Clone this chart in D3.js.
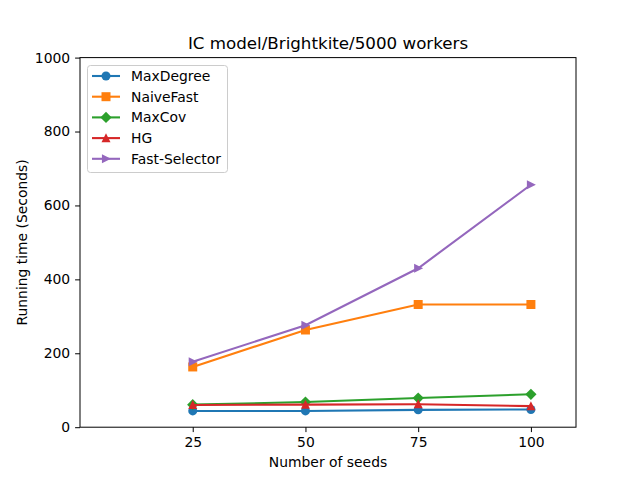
<!DOCTYPE html>
<html><head><meta charset="utf-8">
<script src="https://cdn.jsdelivr.net/npm/d3@7"></script>
<style>body{margin:0;background:#fff}svg{display:block}text{font-family:"DejaVu Sans",sans-serif}</style>
</head><body><div id="chart"></div>
<script>
const seeds = [25, 50, 75, 100];
const maxDegree = [44, 44, 47, 48];
const naiveFast = [163, 263, 332, 332];
const maxCov = [61, 68, 79, 89];
const hg = [60, 61, 62, 57];
const fastSelector = [177, 276, 430, 656];
const yTicks = [0, 200, 400, 600, 800, 1000];
const seriesNames = ["MaxDegree", "NaiveFast", "MaxCov", "HG", "Fast-Selector"];
const seriesColors = ["#1f77b4", "#ff7f0e", "#2ca02c", "#d62728", "#9467bd"];
const seriesMarkers = ["circle", "square", "diamond", "triangle", "triright"];
const seriesValues = [maxDegree, naiveFast, maxCov, hg, fastSelector];

const W = 640, H = 480;
const m = {left: 80, right: 576, top: 57.6, bottom: 427.2};
const svg = d3.select("#chart").append("svg").attr("width", W).attr("height", H);
const x = d3.scaleLinear().domain([0, 110]).range([m.left, m.right]);
const y = d3.scaleLinear().domain([0, 1000]).range([m.bottom, m.top]);

const fs = 13.9;
svg.append("g").attr("transform", `translate(0,${m.bottom})`)
  .call(d3.axisBottom(x).tickValues(seeds).tickFormat(d3.format("d")).tickSize(4.9).tickPadding(4.9))
  .call(g => g.select(".domain").remove())
  .call(g => g.selectAll("text").attr("font-size", fs).attr("font-family", "DejaVu Sans").attr("fill", "#000"));
svg.append("g").attr("transform", `translate(${m.left},0)`)
  .call(d3.axisLeft(y).tickValues(yTicks).tickFormat(d3.format("d")).tickSize(4.9).tickPadding(4.9))
  .call(g => g.select(".domain").remove())
  .call(g => g.selectAll("text").attr("font-size", fs).attr("font-family", "DejaVu Sans").attr("fill", "#000"));

svg.append("rect").attr("x", m.left).attr("y", m.top).attr("width", m.right - m.left)
  .attr("height", m.bottom - m.top).attr("fill", "none").attr("stroke", "#000").attr("stroke-width", 1);

svg.append("text").attr("x", (m.left + m.right) / 2).attr("y", 49).attr("text-anchor", "middle")
  .attr("font-size", 16.7).text("IC model/Brightkite/5000 workers");
svg.append("text").attr("x", (m.left + m.right) / 2).attr("y", 467).attr("text-anchor", "middle")
  .attr("font-size", fs).text("Number of seeds");
svg.append("text").attr("transform", `translate(27,${(m.top + m.bottom) / 2}) rotate(-90)`)
  .attr("text-anchor", "middle").attr("font-size", fs).text("Running time (Seconds)");

function markerPath(type) {
  const s = 4.5;
  switch (type) {
    case "circle": return d3.symbol(d3.symbolCircle, Math.PI * s * s)();
    case "square": return `M${-s},${-s}H${s}V${s}H${-s}Z`;
    case "diamond": { const d = s * 1.25; return `M0,${-d}L${d},0L0,${d}L${-d},0Z`; }
    case "triangle": return `M0,${-s * 1.1}L${s},${s * 0.9}L${-s},${s * 0.9}Z`;
    case "triright": return `M${s * 1.1},0L${-s * 0.9},${s}L${-s * 0.9},${-s}Z`;
  }
}

const line = d3.line().x((d, i) => x(seeds[i])).y(d => y(d));
const plot = svg.append("g");
seriesValues.forEach((vals, k) => {
  plot.append("path").datum(vals).attr("d", line).attr("fill", "none")
    .attr("stroke", seriesColors[k]).attr("stroke-width", 2.1);
  plot.selectAll(null).data(vals).enter().append("path")
    .attr("transform", (d, i) => `translate(${x(seeds[i])},${y(d)})`)
    .attr("d", markerPath(seriesMarkers[k])).attr("fill", seriesColors[k]);
});

const lg = svg.append("g");
lg.append("rect").attr("x", 87.5).attr("y", 65.5).attr("width", 140).attr("height", 107)
  .attr("rx", 3).attr("fill", "#fff").attr("fill-opacity", 0.8).attr("stroke", "#ccc");
seriesNames.forEach((n, k) => {
  const yy = 76 + k * 20.7;
  lg.append("line").attr("x1", 92).attr("x2", 120).attr("y1", yy).attr("y2", yy)
    .attr("stroke", seriesColors[k]).attr("stroke-width", 2.1);
  lg.append("path").attr("transform", `translate(106,${yy})`).attr("d", markerPath(seriesMarkers[k]))
    .attr("fill", seriesColors[k]);
  lg.append("text").attr("x", 131).attr("y", yy + 5).attr("font-size", fs).text(n);
});
</script></body></html>
